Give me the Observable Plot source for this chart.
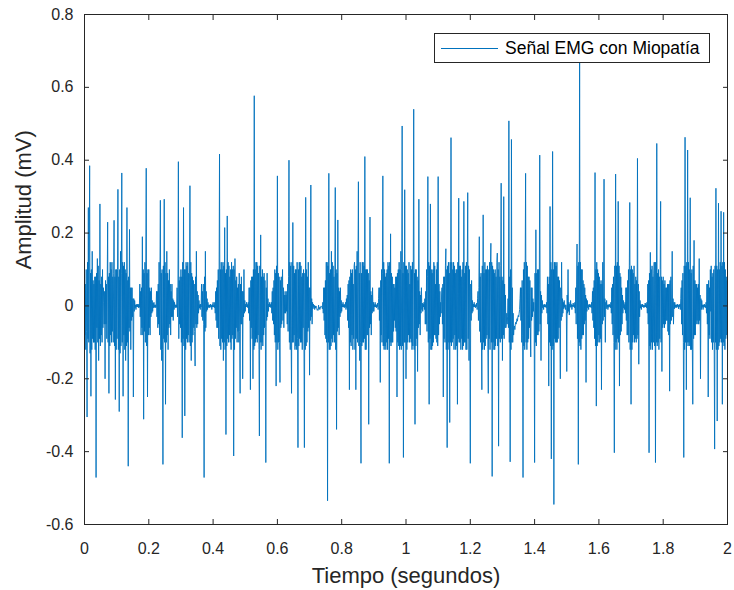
<!DOCTYPE html>
<html>
<head>
<meta charset="utf-8">
<script src="https://cdn.jsdelivr.net/npm/d3@7"></script>
<script src="https://cdn.jsdelivr.net/npm/@observablehq/plot@0.6"></script>
<style>
  html, body { margin: 0; padding: 0; background: #fff; }
  #wrap { position: relative; width: 734px; height: 590px; font-family: "Liberation Sans", Arial, Helvetica, sans-serif; }
  #legend { position: absolute; left: 434px; top: 33px; width: 276px; height: 30px; border: 1px solid #262626; background: #fff; box-sizing: border-box; display: flex; align-items: center; }
  #legend .swatch { width: 57px; height: 0; border-top: 1.2px solid #0072BD; margin-left: 6px; margin-right: 7px; }
  #legend .lbl { font-size: 17.5px; color: #000; white-space: nowrap; }
</style>
</head>
<body>
<div id="wrap">
  <div id="chart"></div>
  <div id="legend"><div class="swatch"></div><div class="lbl">Señal EMG con Miopatía</div></div>
</div>
<script>
const dt = 0.004;
// Main samples: amplitude (mV), one value per step, t = 0 ... 2 s
const amplitude = [
  0.05,-0.12,-0.305,0.27,0.385,-0.248,0.15,-0.1,0.08,-0.471,0.13,-0.15,0.28,-0.08,0.1,0.01,-0.2,0.06,0.23,-0.24,0.12,-0.1,0.08,0.235,-0.257,
  0.1,0.32,-0.29,0.15,0.365,-0.248,0.12,-0.15,0.27,-0.44,0.21,-0.12,0.05,-0.25,0.015,-0.01,0.005,-0.005,0.06,-0.08,0.19,-0.311,0.12,0.378,-0.25,
  0.1,-0.08,0.05,-0.015,0.01,-0.005,0.04,-0.06,0.12,0.29,-0.15,-0.435,0.293,-0.27,0.15,-0.12,0.1,-0.08,0.06,-0.04,0.01,-0.005,0.05,0.396,-0.05,
  0.1,-0.362,0.27,-0.302,0.12,-0.1,0.09,0.33,-0.15,0.08,-0.06,-0.165,0.15,-0.05,0.015,-0.01,0.06,-0.04,-0.471,0.15,-0.015,0.01,-0.005,0.005,-0.01,
  0.01,-0.005,0.04,-0.06,0.1,0.417,-0.12,0.1,-0.15,0.215,-0.353,0.247,-0.1,0.08,-0.12,0.1,-0.412,0.13,-0.06,0.05,-0.1,-0.24,0.08,-0.2,0.1,
  -0.015,0.01,-0.005,0.05,-0.23,0.08,-0.2,0.577,-0.1,0.12,-0.08,-0.357,0.195,-0.1,0.08,-0.06,-0.43,0.09,-0.015,0.01,-0.005,0.04,-0.05,0.1,-0.22,
  0.357,-0.1,-0.21,0.08,0.1,-0.06,0.04,-0.015,0.06,0.40,-0.12,-0.24,0.229,-0.08,0.1,-0.12,-0.389,0.12,-0.1,0.08,-0.06,-0.389,0.298,-0.1,0.12,
  -0.19,0.332,-0.05,0.005,-0.01,0.0,-0.012,0.002,-0.01,0.0,-0.008,0.05,-0.08,0.12,-0.535,0.364,-0.12,0.15,-0.1,0.08,0.325,-0.339,0.236,-0.08,0.05,
  -0.015,0.01,-0.005,0.01,-0.005,0.06,-0.23,0.1,-0.08,0.06,0.12,-0.23,0.15,0.341,-0.15,-0.432,0.12,-0.1,0.41,-0.12,0.1,-0.325,0.244,-0.08,0.05,
  -0.015,0.01,-0.005,0.008,0.05,-0.21,0.1,0.357,-0.12,0.08,-0.1,0.12,-0.432,0.198,-0.1,0.06,-0.04,0.08,-0.25,0.1,-0.12,0.15,0.494,-0.416,0.319,
  -0.2,0.1,-0.08,0.06,-0.1,0.12,0.54,-0.325,0.1,-0.18,0.293,-0.08,0.05,-0.015,0.01,-0.05,0.1,0.355,-0.27,0.28,-0.12,0.1,-0.08,0.06,-0.1,
  0.355,-0.05,0.01,0.05,-0.25,0.08,0.157,-0.389,0.12,-0.32,0.462,-0.1,0.12,-0.08,0.1,-0.27,0.296,-0.1,0.08,-0.12,0.287,-0.1,0.12,0.311,-0.15,
  -0.432,0.07,-0.015,0.01,-0.005,0.008,0.04,0.19,-0.1,-0.23,0.25,-0.12,0.1,-0.08,-0.24,0.12,0.172,-0.468,0.1,-0.12,0.08,0.145,-0.385,0.08,0.337,
  -0.15,0.30,-0.06,-0.05,-0.03,0.508,-0.428,0.457,-0.1,-0.06,-0.05,-0.04,-0.03,-0.02,0.05,-0.1,-0.471,0.12,0.364,-0.12,0.08,-0.06,-0.14,0.05,-0.015,
  -0.43,0.209,-0.08,0.1,0.414,-0.15,0.015,-0.01,0.005,-0.005,0.08,-0.22,0.273,-0.42,0.424,-0.545,0.12,-0.1,0.08,-0.06,-0.2,0.12,-0.02,0.015,-0.01,
  -0.18,0.1,-0.025,0.015,-0.01,0.008,-0.005,0.05,0.17,-0.435,0.72,-0.12,0.1,-0.08,0.05,-0.21,0.015,-0.01,0.005,-0.005,0.04,-0.06,0.366,-0.275,0.1,
  -0.08,0.06,-0.23,0.12,0.348,-0.1,0.015,-0.01,0.005,-0.005,0.05,-0.08,-0.403,0.362,-0.12,0.287,-0.22,0.08,-0.05,0.015,-0.01,0.05,-0.08,0.1,0.284,
  -0.27,0.1,-0.08,0.06,-0.1,0.405,-0.16,0.015,-0.01,0.005,-0.005,0.008,-0.005,0.06,-0.403,0.147,-0.1,0.08,0.12,-0.43,0.446,-0.1,0.08,0.287,-0.18,
  0.08,-0.06,0.05,-0.04,0.06,-0.234,0.08,0.15,-0.05,0.01,-0.005,0.005,-0.008,0.005,0.05,-0.08,-0.416,0.463,-0.23,0.428,-0.1,0.297,-0.12,-0.27,0.18,
  -0.08,0.06,-0.05,0.13,-0.2,0.015,-0.01,0.005,-0.005,0.06,-0.25,0.05,-0.015,0.08,-0.1,-0.393,0.323,-0.316,0.282,-0.1,0.26,-0.27,0.257,-0.12,0.08,-0.02
];
// Burst core: two intermediate samples (mV) inside each step, at +1/3 and +2/3 of dt
const inBetween = [
  -0.08,0.06, 0.1,-0.07, 0.12,-0.09, -0.1,0.12, -0.13,0.09, 0.1,-0.12, -0.09,0.07, 0.06,-0.1, -0.12,0.08, 0.09,-0.06, -0.1,0.11, 0.07,-0.09, -0.11,0.06, 0.08,-0.1, -0.06,0.05, -0.05,0.04, 0.07,-0.05, -0.09,0.06, -0.1,0.08, 0.09,-0.11, -0.08,0.1, 0.12,-0.07, -0.1,0.09, -0.11,0.08, 0.1,-0.12,
  -0.09,0.1, -0.12,0.08, 0.1,-0.13, -0.11,0.09, -0.1,0.12, 0.11,-0.08, -0.12,0.1, 0.09,-0.11, -0.1,0.07, 0.08,-0.06, -0.07,0.05, 0.05,-0.04, -0.03,0.02, 0.02,-0.015, -0.005,0.003, 0.004,-0.003, -0.003,0.004, 0.005,-0.004, -0.03,0.04, 0.05,-0.06, -0.08,0.1, 0.09,-0.07, -0.1,0.12, -0.11,0.09, 0.1,-0.08,
  -0.06,0.05, 0.04,-0.03, -0.02,0.015, 0.008,-0.005, -0.004,0.003, 0.003,-0.004, -0.03,0.04, 0.06,-0.05, -0.08,0.1, -0.12,0.09, 0.1,-0.12, 0.11,-0.09, -0.1,0.12, 0.09,-0.1, -0.08,0.09, 0.07,-0.06, -0.05,0.06, 0.04,-0.03, -0.03,0.02, 0.015,-0.01, -0.004,0.003, 0.003,-0.004, -0.03,0.05, -0.09,0.07, 0.08,-0.06,
  -0.1,0.08, 0.12,-0.09, -0.11,0.1, 0.1,-0.12, -0.09,0.11, 0.12,-0.08, -0.1,0.09, -0.11,0.12, 0.09,-0.1, -0.08,0.07, 0.06,-0.07, 0.08,-0.05, -0.06,0.04, 0.03,-0.02, -0.006,0.004, 0.005,-0.003, -0.03,0.04, 0.06,-0.05, 0.08,-0.07, -0.06,0.04, 0.02,-0.01, -0.004,0.003, 0.003,-0.004, -0.003,0.002, 0.004,-0.003,
  -0.003,0.002, 0.01,-0.02, -0.04,0.05, 0.07,-0.06, -0.09,0.08, -0.11,0.1, 0.12,-0.09, -0.1,0.12, 0.11,-0.1, -0.12,0.09, 0.1,-0.11, -0.09,0.12, 0.11,-0.08, -0.1,0.1, 0.12,-0.09, -0.08,0.11, 0.1,-0.12, -0.09,0.07, 0.08,-0.1, -0.07,0.06, 0.09,-0.07, 0.06,-0.05, -0.05,0.04, 0.04,-0.03, -0.02,0.015,
  0.005,-0.003, -0.003,0.004, 0.01,-0.02, -0.04,0.05, 0.07,-0.06, -0.09,0.08, 0.1,-0.12, -0.11,0.1, 0.12,-0.09, -0.1,0.11, 0.09,-0.12, 0.11,-0.1, -0.12,0.08, 0.1,-0.11, -0.08,0.09, 0.07,-0.06, 0.05,-0.04, -0.03,0.02, 0.005,-0.003, -0.003,0.004, 0.01,-0.02, -0.04,0.05, 0.07,-0.08, -0.1,0.09, 0.11,-0.1,
  -0.12,0.09, 0.08,-0.1, 0.07,-0.06, -0.05,0.04, -0.04,0.05, 0.03,-0.02, -0.02,0.03, 0.04,-0.05, -0.07,0.08, -0.1,0.12, 0.11,-0.09, 0.12,-0.1, -0.1,0.11, 0.09,-0.12, -0.11,0.1, 0.12,-0.09, 0.1,-0.11, -0.09,0.12, 0.11,-0.1, -0.12,0.09, 0.1,-0.11, 0.09,-0.12, -0.11,0.1, 0.08,-0.07, -0.06,0.05,
  0.05,-0.04, -0.03,0.02, 0.01,-0.008, -0.004,0.002, 0.0,-0.006, -0.004,-0.008, -0.01,-0.012, -0.008,-0.004, -0.006,-0.002, -0.002,-0.004, 0.01,-0.02, -0.04,0.05, 0.07,-0.09, -0.1,0.12, 0.11,-0.1, -0.12,0.09, 0.1,-0.11, -0.09,0.12, 0.11,-0.08, -0.1,0.09, -0.12,0.1, 0.09,-0.07, -0.06,0.05, 0.04,-0.03, -0.02,0.015,
  0.005,-0.003, -0.003,0.004, 0.004,-0.003, -0.01,0.02, 0.03,-0.04, -0.06,0.07, 0.08,-0.1, -0.11,0.09, 0.1,-0.12, -0.09,0.11, -0.12,0.1, 0.11,-0.09, -0.1,0.12, -0.11,0.09, 0.12,-0.1, 0.09,-0.11, -0.1,0.12, 0.11,-0.09, -0.12,0.1, 0.1,-0.08, -0.08,0.09, 0.07,-0.06, -0.05,0.04, 0.03,-0.02, -0.015,0.01,
  0.004,-0.003, -0.003,0.004, 0.003,-0.002, -0.01,0.02, -0.04,0.05, 0.07,-0.08, -0.1,0.09, -0.11,0.12, 0.1,-0.11, -0.12,0.09, 0.1,-0.12, -0.09,0.11, 0.12,-0.1, -0.11,0.09, 0.08,-0.1, -0.07,0.06, 0.05,-0.06, -0.07,0.08, 0.09,-0.1, -0.11,0.12, 0.1,-0.11, -0.12,0.1, -0.11,0.09, 0.12,-0.1, -0.1,0.11,
  0.11,-0.12, -0.1,0.09, 0.12,-0.1, -0.09,0.11, 0.1,-0.12, -0.11,0.1, -0.12,0.09, 0.1,-0.11, -0.09,0.08, 0.07,-0.06, -0.05,0.04, 0.03,-0.02, -0.01,0.008, 0.005,-0.003, -0.01,0.02, 0.04,-0.05, -0.07,0.08, -0.1,0.12, 0.11,-0.09, -0.12,0.1, 0.09,-0.11, -0.1,0.12, 0.11,-0.08, -0.09,0.1, 0.12,-0.11,
  -0.08,0.06, 0.04,-0.03, -0.02,0.03, -0.05,0.06, 0.08,-0.09, -0.1,0.11, -0.12,0.1, 0.11,-0.12, -0.1,0.09, 0.12,-0.1, -0.11,0.12, 0.1,-0.09, -0.12,0.11, 0.09,-0.12, -0.11,0.1, 0.12,-0.09, -0.1,0.11, 0.11,-0.12, -0.09,0.1, 0.12,-0.11, -0.1,0.09, 0.11,-0.12, -0.12,0.1, -0.09,0.11, 0.1,-0.08,
  0.06,-0.04, -0.02,0.015, 0.005,-0.003, -0.003,0.004, 0.003,-0.002, -0.01,0.02, -0.04,0.05, -0.07,0.08, 0.09,-0.1, 0.11,-0.12, -0.1,0.09, 0.12,-0.11, -0.09,0.1, 0.11,-0.12, 0.1,-0.09, -0.12,0.11, -0.1,0.12, 0.11,-0.1, -0.12,0.09, 0.1,-0.11, -0.09,0.12, -0.11,0.1, 0.12,-0.09, -0.1,0.11, -0.09,0.08,
  0.07,-0.08, -0.09,0.06, 0.03,-0.06, -0.02,-0.05, 0.02,-0.06, -0.1,0.08, 0.1,-0.12, -0.1,0.05, -0.02,-0.08, -0.055,-0.065, -0.045,-0.05, -0.035,-0.042, -0.026,-0.03, -0.01,0.02, -0.04,0.05, 0.07,-0.08, 0.1,-0.11, -0.12,0.09, -0.1,0.12, 0.11,-0.1, -0.09,0.08, 0.07,-0.06, 0.05,-0.04, -0.03,0.02, 0.01,-0.02,
  0.09,-0.1, -0.11,0.09, 0.1,-0.08, -0.07,0.06, -0.05,0.04, 0.03,-0.02, -0.005,0.003, 0.004,-0.003, -0.003,0.002, 0.01,-0.02, -0.05,0.06, 0.08,-0.1, -0.11,0.12, 0.1,-0.12, -0.11,0.1, 0.12,-0.09, -0.1,0.11, 0.12,-0.1, -0.09,0.08, 0.07,-0.06, 0.05,-0.04, -0.03,0.02, 0.01,-0.008, -0.004,0.003, 0.003,-0.004,
  0.03,-0.02, -0.015,0.01, 0.005,-0.004, -0.003,0.004, 0.003,-0.002, -0.002,0.003, 0.01,-0.02, -0.05,0.06, -0.09,0.11, 0.12,-0.1, -0.11,0.12, 0.1,-0.09, -0.08,0.07, 0.06,-0.05, -0.04,0.03, 0.02,-0.015, -0.005,0.003, 0.004,-0.003, -0.003,0.002, 0.01,-0.02, -0.04,0.05, 0.07,-0.09, -0.11,0.1, 0.12,-0.11, -0.1,0.09,
  0.08,-0.1, -0.09,0.07, 0.06,-0.05, -0.04,0.03, -0.03,0.02, 0.01,-0.008, -0.004,0.003, 0.003,-0.004, -0.002,0.003, 0.01,-0.02, -0.05,0.06, 0.08,-0.1, 0.11,-0.12, -0.1,0.11, 0.12,-0.09, -0.1,0.11, 0.09,-0.08, -0.07,0.05, 0.03,-0.02, -0.006,0.004, 0.01,-0.02, -0.04,0.05, 0.07,-0.08, -0.1,0.11, -0.12,0.1,
  0.11,-0.12, -0.1,0.09, 0.11,-0.1, -0.09,0.08, 0.07,-0.09, -0.08,0.06, 0.04,-0.03, -0.006,0.004, 0.004,-0.003, -0.003,0.002, 0.002,-0.003, -0.003,0.004, 0.01,-0.02, -0.05,0.07, 0.09,-0.11, -0.12,0.1, 0.11,-0.12, -0.1,0.09, -0.11,0.12, 0.12,-0.1, -0.11,0.09, 0.1,-0.12, -0.09,0.1, -0.1,0.08, 0.07,-0.06,
  -0.05,0.06, 0.07,-0.05, -0.04,0.05, 0.06,-0.07, -0.08,0.06, 0.07,-0.05, -0.04,0.03, -0.03,0.02, 0.01,-0.008, -0.004,0.003, 0.003,-0.004, -0.002,0.003, 0.003,-0.002, -0.01,0.02, -0.05,0.07, 0.09,-0.1, 0.11,-0.12, -0.1,0.11, 0.12,-0.1, -0.11,0.12, 0.1,-0.11, -0.12,0.09, 0.1,-0.12, 0.11,-0.09, -0.08,0.07,
  0.06,-0.05, -0.04,0.05, 0.06,-0.05, -0.04,0.03, 0.02,-0.01, -0.004,0.003, 0.003,-0.004, -0.003,0.002, 0.01,-0.02, -0.05,0.06, 0.07,-0.08, -0.09,0.1, 0.11,-0.1, -0.12,0.09, 0.1,-0.12, 0.11,-0.1, -0.12,0.11, 0.1,-0.12, -0.11,0.1, 0.12,-0.09, -0.1,0.11, 0.12,-0.1, -0.11,0.12, 0.1,-0.09, -0.08,0.07
];
const xTicks = [0, 0.2, 0.4, 0.6, 0.8, 1, 1.2, 1.4, 1.6, 1.8, 2];
const yTicks = [-0.6, -0.4, -0.2, 0, 0.2, 0.4, 0.6, 0.8];
const xLabel = "Tiempo (segundos)";
const yLabel = "Amplitud (mV)";

// Merge main samples with the intermediate samples in time order
const signal = [];
amplitude.forEach((v, i) => {
  signal.push({t: i * dt, v});
  if (2 * i + 1 < inBetween.length && i < amplitude.length - 1) {
    signal.push({t: (i + 1 / 3) * dt, v: inBetween[2 * i]});
    signal.push({t: (i + 2 / 3) * dt, v: inBetween[2 * i + 1]});
  }
});
const fmt = d => String(Math.round(d * 10) / 10);
const ink = "#262626";

const chart = Plot.plot({
  width: 734,
  height: 590,
  marginLeft: 84,
  marginRight: 7,
  marginTop: 14,
  marginBottom: 66,
  style: {fontFamily: '"Liberation Sans", Arial, Helvetica, sans-serif', fontSize: "16px", color: ink, background: "#fff", overflow: "visible"},
  x: {domain: [0, 2]},
  y: {domain: [-0.6, 0.8]},
  marks: [
    Plot.line(signal, {x: "t", y: "v", stroke: "#0072BD", strokeWidth: 0.9}),
    Plot.frame({stroke: ink, strokeWidth: 1}),
    Plot.axisX(xTicks, {anchor: "bottom", tickSize: -5, tickPadding: 23, tickFormat: fmt, label: null, fontSize: 16, stroke: ink, fill: ink}),
    Plot.axisX(xTicks, {anchor: "top", tickSize: -5, tickFormat: () => "", label: null, stroke: ink}),
    Plot.axisY(yTicks, {anchor: "left", tickSize: -5, tickPadding: 16, tickFormat: fmt, label: null, fontSize: 16, stroke: ink, fill: ink}),
    Plot.axisY(yTicks, {anchor: "right", tickSize: -5, tickFormat: () => "", label: null, stroke: ink}),
    Plot.text([xLabel], {frameAnchor: "bottom", dy: 58, lineAnchor: "bottom", fontSize: 22, fill: ink}),
    Plot.text([yLabel], {frameAnchor: "left", dx: -69, rotate: -90, lineAnchor: "top", fontSize: 22, fill: ink})
  ]
});
document.getElementById("chart").appendChild(chart);
</script>
</body>
</html>
